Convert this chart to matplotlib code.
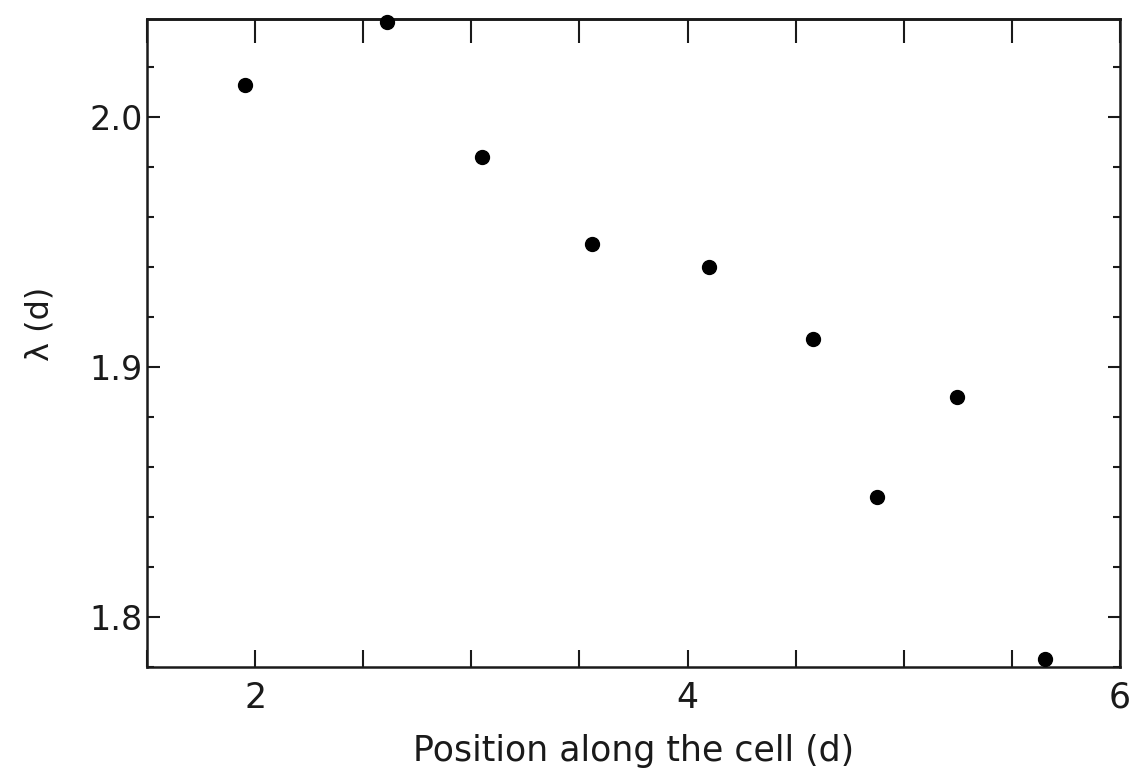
import numpy as np
import matplotlib
matplotlib.use('Agg')
import matplotlib.pyplot as plt
from matplotlib.ticker import MultipleLocator, FixedLocator, FixedFormatter

# position along the cell (d) and wavelength lambda (d)
position = [1.955, 2.608, 3.049, 3.560, 4.098, 4.580, 4.875, 5.247, 5.652]
wavelength = [2.013, 2.038, 1.984, 1.949, 1.940, 1.911, 1.848, 1.888, 1.783]

xticks_major = [2, 4, 6]
xtick_labels = ['2', '4', '6']
yticks_major = [1.8, 1.9, 2.0]
ytick_labels = ['1.8', '1.9', '2.0']

ink = '#1a1a1a'
plt.rcParams['font.family'] = ['DejaVu Sans']

fig = plt.figure(figsize=(11.35, 7.76), dpi=100)
ax = fig.add_axes([0.1295, 0.1405, 0.8573, 0.835])

ax.plot(position, wavelength, 'o', color='black', ms=10, clip_on=False, zorder=3)

ax.set_xlim(1.5, 6.0)
ax.set_ylim(1.78, 2.0392)

ax.xaxis.set_major_locator(FixedLocator(xticks_major))
ax.xaxis.set_major_formatter(FixedFormatter(xtick_labels))
ax.xaxis.set_minor_locator(MultipleLocator(0.5))
ax.yaxis.set_major_locator(FixedLocator(yticks_major))
ax.yaxis.set_major_formatter(FixedFormatter(ytick_labels))
ax.yaxis.set_minor_locator(MultipleLocator(0.02))

ax.tick_params(axis='x', which='both', direction='in', length=12, width=1.5,
               labelsize=25, pad=10, colors=ink, top=False)
ax.tick_params(axis='y', which='major', direction='in', length=9, width=1.5,
               labelsize=24, pad=3, colors=ink, right=True)
ax.tick_params(axis='y', which='minor', direction='in', length=5, width=1.5,
               right=True, colors=ink)

top = ax.secondary_xaxis('top')
top.xaxis.set_major_locator(MultipleLocator(0.5))
top.tick_params(direction='in', length=17, width=1.5, labeltop=False, colors=ink)
top.spines['top'].set_linewidth(1.8)

for s in ax.spines.values():
    s.set_linewidth(1.8)
    s.set_color(ink)

ax.set_xlabel('Position along the cell (d)', fontsize=25, color=ink, labelpad=14)
ax.set_ylabel('λ (d)', fontsize=23, color=ink)
ax.yaxis.set_label_coords(-0.094, 0.53)

fig.savefig('out.png', dpi=100)
